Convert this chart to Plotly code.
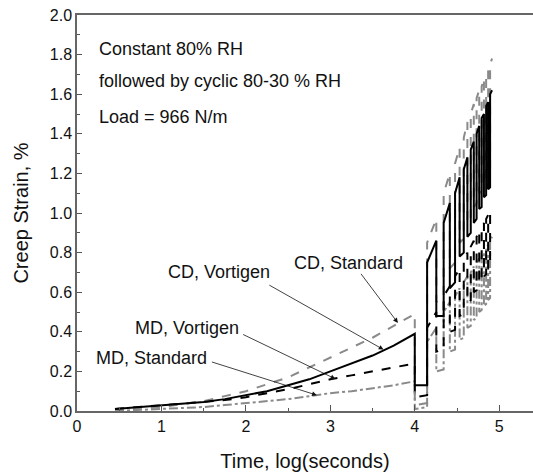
import plotly.graph_objects as go

# ---- constant-RH phase (log seconds vs creep strain %) ----
pre_x = [0.45, 0.75, 1.0, 1.25, 1.5, 1.75, 2.0, 2.25, 2.5, 2.75, 3.0, 3.25, 3.5, 3.75, 4.0]
cd_std_pre = [0.0, 0.01, 0.02, 0.035, 0.05, 0.075, 0.1, 0.135, 0.17, 0.22, 0.27, 0.32, 0.37, 0.43, 0.49]
cd_vor_pre = [0.01, 0.02, 0.03, 0.035, 0.045, 0.06, 0.08, 0.1, 0.13, 0.16, 0.2, 0.24, 0.28, 0.33, 0.39]
md_vor_pre = [0.01, 0.02, 0.03, 0.035, 0.045, 0.055, 0.07, 0.09, 0.11, 0.135, 0.16, 0.18, 0.2, 0.22, 0.24]
md_std_pre = [0.0, 0.005, 0.01, 0.015, 0.02, 0.03, 0.04, 0.05, 0.06, 0.075, 0.09, 0.1, 0.115, 0.13, 0.15]

# ---- cyclic 80-30 % RH phase: half-cycle boundaries ----
cyc_x = [4.0, 4.146, 4.255, 4.342, 4.415, 4.477, 4.531, 4.58, 4.623, 4.663,
         4.699, 4.732, 4.763, 4.792, 4.819, 4.845, 4.869, 4.892, 4.915]
# strain at start / end of each half cycle (low, high, low, high ...)
cd_std_start = [0.03, 0.85, 0.55, 1.1, 0.72, 1.25, 0.85, 1.38, 0.95, 1.5, 1.03, 1.58, 1.1, 1.64, 1.15, 1.7, 1.2, 1.75]
cd_std_end = [0.04, 0.97, 0.58, 1.2, 0.75, 1.33, 0.87, 1.46, 0.97, 1.55, 1.05, 1.62, 1.11, 1.68, 1.16, 1.72, 1.21, 1.78]
cd_vor_start = [0.13, 0.75, 0.48, 0.95, 0.62, 1.1, 0.78, 1.22, 0.88, 1.32, 0.95, 1.4, 1.02, 1.48, 1.08, 1.54, 1.12, 1.6]
cd_vor_end = [0.13, 0.86, 0.48, 1.05, 0.65, 1.18, 0.8, 1.28, 0.9, 1.36, 0.97, 1.44, 1.03, 1.5, 1.09, 1.56, 1.13, 1.62]
md_vor_start = [0.07, 0.42, 0.3, 0.58, 0.4, 0.68, 0.48, 0.76, 0.55, 0.83, 0.6, 0.88, 0.65, 0.93, 0.68, 0.97, 0.72, 1.0]
md_vor_end = [0.08, 0.5, 0.31, 0.63, 0.41, 0.72, 0.49, 0.8, 0.56, 0.86, 0.61, 0.91, 0.66, 0.95, 0.69, 0.99, 0.73, 1.03]
md_std_start = [0.01, 0.35, 0.2, 0.5, 0.3, 0.58, 0.36, 0.65, 0.42, 0.7, 0.46, 0.75, 0.5, 0.78, 0.53, 0.82, 0.56, 0.86]
md_std_end = [0.02, 0.42, 0.21, 0.55, 0.31, 0.62, 0.37, 0.68, 0.43, 0.73, 0.47, 0.77, 0.51, 0.8, 0.54, 0.84, 0.57, 0.88]

x_ticks = [0, 1, 2, 3, 4, 5]
y_ticks = [0.0, 0.2, 0.4, 0.6, 0.8, 1.0, 1.2, 1.4, 1.6, 1.8, 2.0]


def build(pre_y, starts, ends):
    xs = list(pre_x)
    ys = list(pre_y)
    for i in range(len(starts)):
        xs += [cyc_x[i], cyc_x[i + 1]]
        ys += [starts[i], ends[i]]
    return xs, ys


series = [
    ("MD, Standard", md_std_pre, md_std_start, md_std_end, "#8a8a8a", "dashdot", 2),
    ("MD, Vortigen", md_vor_pre, md_vor_start, md_vor_end, "#000000", "dash", 2),
    ("CD, Standard", cd_std_pre, cd_std_start, cd_std_end, "#8a8a8a", "dash", 2),
    ("CD, Vortigen", cd_vor_pre, cd_vor_start, cd_vor_end, "#000000", "solid", 2),
]

fig = go.Figure()
for name, pre, s, e, col, dash, w in series:
    xs, ys = build(pre, s, e)
    fig.add_trace(go.Scatter(x=xs, y=ys, mode="lines", name=name,
                             line=dict(color=col, dash=dash, width=w)))

font = "Liberation Sans, Arial, sans-serif"
ann = []
# top-left notes
for txt, yy in [("Constant 80% RH", 1.83), ("followed by cyclic 80-30 % RH", 1.665),
                ("Load = 966 N/m", 1.485)]:
    ann.append(dict(x=0.24, y=yy, xref="x", yref="y", text=txt, showarrow=False,
                    xanchor="left", yanchor="middle", font=dict(size=18, color="#111")))
# series labels
for txt, tx, ty in [("CD, Standard", 3.22, 0.75), ("CD, Vortigen", 1.68, 0.70),
                    ("MD, Vortigen", 1.30, 0.42), ("MD, Standard", 0.88, 0.27)]:
    ann.append(dict(x=tx, y=ty, xref="x", yref="y", text=txt, showarrow=False,
                    xanchor="center", yanchor="middle", font=dict(size=18, color="#111")))
# arrows
for (hx, hy, tx, ty) in [(3.80, 0.445, 3.35, 0.70), (3.63, 0.31, 2.26, 0.64),
                         (3.06, 0.162, 1.95, 0.39), (2.84, 0.08, 1.58, 0.25)]:
    ann.append(dict(x=hx, y=hy, ax=tx, ay=ty, xref="x", yref="y", axref="x", ayref="y",
                    text="", showarrow=True, arrowhead=2, arrowsize=1.2, arrowwidth=0.8,
                    arrowcolor="#111", standoff=0, startstandoff=0))

fig.update_layout(
    width=533, height=475,
    margin=dict(l=77, r=0, t=15, b=64),
    plot_bgcolor="white", paper_bgcolor="white",
    showlegend=False,
    font=dict(family=font, color="#111", size=16),
    annotations=ann,
    xaxis=dict(range=[0, 5.4], tickvals=x_ticks, ticktext=[str(v) for v in x_ticks],
               ticks="inside", ticklen=6, tickwidth=1, tickcolor="#555",
               minor=dict(dtick=0.5, ticks="inside", ticklen=3, tickcolor="#555"),
               showline=True, linecolor="#666", linewidth=1.5, mirror=True,
               showgrid=False, zeroline=False,
               title=dict(text="Time, log(seconds)", font=dict(size=20), standoff=20),
               tickfont=dict(size=16)),
    yaxis=dict(range=[0, 2.0], tickvals=y_ticks, ticktext=["%.1f" % v for v in y_ticks],
               ticks="inside", ticklen=5, tickwidth=1, tickcolor="#555",
               minor=dict(dtick=0.1, ticks="inside", ticklen=3, tickcolor="#555"),
               showline=True, linecolor="#666", linewidth=1.5,
               showgrid=False, zeroline=False,
               title=dict(text="Creep Strain, %", font=dict(size=20), standoff=16),
               tickfont=dict(size=16)),
)

fig.write_html("out.html")
